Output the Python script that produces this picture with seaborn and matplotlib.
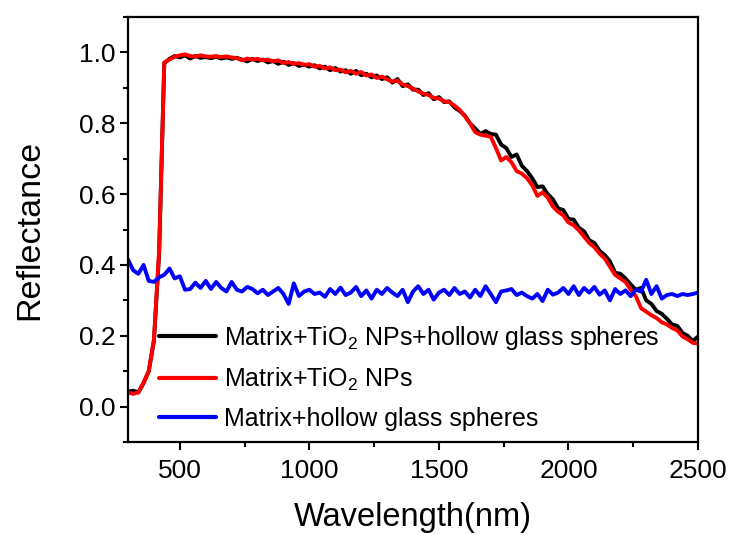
import numpy as np
import pandas as pd
import matplotlib
matplotlib.use("Agg")
import matplotlib.pyplot as plt
from matplotlib.ticker import MultipleLocator
import seaborn as sns

wavelength = list(range(300, 2501, 20))

tio2_hgs = [0.042, 0.045, 0.040, 0.066, 0.100, 0.185, 0.430, 0.970, 0.982, 0.990,
            0.986, 0.992, 0.983, 0.990, 0.985, 0.987, 0.984, 0.988, 0.983, 0.986,
            0.982, 0.985, 0.980, 0.975, 0.982, 0.976, 0.980, 0.972, 0.976, 0.968,
            0.974, 0.965, 0.970, 0.962, 0.966, 0.960, 0.964, 0.955, 0.960, 0.950,
            0.956, 0.946, 0.950, 0.940, 0.948, 0.936, 0.940, 0.930, 0.935, 0.925,
            0.930, 0.915, 0.925, 0.905, 0.910, 0.895, 0.895, 0.880, 0.885, 0.868,
            0.874, 0.860, 0.862, 0.845, 0.835, 0.822, 0.800, 0.785, 0.770, 0.778,
            0.770, 0.768, 0.740, 0.730, 0.705, 0.712, 0.680, 0.665, 0.645, 0.620,
            0.622, 0.600, 0.585, 0.560, 0.555, 0.530, 0.528, 0.505, 0.495, 0.470,
            0.462, 0.440, 0.428, 0.410, 0.378, 0.375, 0.362, 0.345, 0.330, 0.335,
            0.300, 0.290, 0.270, 0.262, 0.248, 0.232, 0.228, 0.208, 0.200, 0.185,
            0.198]

tio2 = [0.040, 0.036, 0.040, 0.068, 0.100, 0.190, 0.440, 0.972, 0.980, 0.988,
        0.992, 0.995, 0.990, 0.988, 0.992, 0.989, 0.988, 0.990, 0.987, 0.989,
        0.986, 0.984, 0.978, 0.983, 0.980, 0.982, 0.978, 0.980, 0.975, 0.978,
        0.970, 0.973, 0.968, 0.970, 0.965, 0.967, 0.960, 0.962, 0.955, 0.958,
        0.950, 0.952, 0.944, 0.948, 0.940, 0.945, 0.935, 0.938, 0.928, 0.932,
        0.924, 0.918, 0.920, 0.910, 0.905, 0.898, 0.890, 0.884, 0.880, 0.872,
        0.870, 0.862, 0.860, 0.850, 0.838, 0.820, 0.800, 0.775, 0.768, 0.765,
        0.762, 0.730, 0.695, 0.705, 0.690, 0.665, 0.658, 0.645, 0.625, 0.595,
        0.605, 0.590, 0.565, 0.550, 0.540, 0.520, 0.512, 0.498, 0.480, 0.462,
        0.450, 0.432, 0.418, 0.395, 0.372, 0.362, 0.352, 0.330, 0.312, 0.278,
        0.268, 0.258, 0.250, 0.238, 0.232, 0.222, 0.215, 0.198, 0.190, 0.180,
        0.178]

hgs = [0.415, 0.385, 0.375, 0.400, 0.355, 0.352, 0.365, 0.372, 0.390, 0.362,
       0.368, 0.330, 0.332, 0.350, 0.335, 0.355, 0.332, 0.352, 0.335, 0.325,
       0.352, 0.330, 0.325, 0.338, 0.332, 0.320, 0.330, 0.315, 0.325, 0.335,
       0.318, 0.290, 0.348, 0.312, 0.325, 0.330, 0.318, 0.322, 0.310, 0.332,
       0.318, 0.336, 0.315, 0.322, 0.338, 0.312, 0.328, 0.305, 0.330, 0.318,
       0.335, 0.322, 0.312, 0.330, 0.295, 0.325, 0.340, 0.318, 0.330, 0.302,
       0.322, 0.330, 0.315, 0.335, 0.318, 0.325, 0.308, 0.330, 0.312, 0.340,
       0.318, 0.295, 0.325, 0.328, 0.332, 0.315, 0.322, 0.312, 0.305, 0.318,
       0.298, 0.330, 0.316, 0.322, 0.335, 0.318, 0.340, 0.315, 0.335, 0.322,
       0.338, 0.316, 0.328, 0.300, 0.332, 0.318, 0.328, 0.312, 0.330, 0.325,
       0.358, 0.318, 0.340, 0.305, 0.315, 0.318, 0.312, 0.318, 0.315, 0.318,
       0.322]

labels = ["Matrix+TiO$_2$ NPs+hollow glass spheres",
          "Matrix+TiO$_2$ NPs",
          "Matrix+hollow glass spheres"]
colors = ["#000000", "#ff0000", "#0000ff"]
x_ticks = [500, 1000, 1500, 2000, 2500]
y_ticks = [0.0, 0.2, 0.4, 0.6, 0.8, 1.0]

sns.set_theme(style="ticks")
plt.rcParams['font.family'] = ['Liberation Sans', 'DejaVu Sans']
plt.rcParams['mathtext.fontset'] = 'custom'
plt.rcParams['mathtext.rm'] = 'Liberation Sans'
plt.rcParams['mathtext.it'] = 'Liberation Sans'
plt.rcParams['text.color'] = 'black'
plt.rcParams['axes.labelcolor'] = 'black'
plt.rcParams['xtick.color'] = 'black'
plt.rcParams['ytick.color'] = 'black'
plt.rcParams['axes.edgecolor'] = 'black'

df = pd.DataFrame({
    "wavelength": wavelength * 3,
    "reflectance": tio2_hgs + tio2 + hgs,
    "sample": [labels[0]] * len(wavelength) + [labels[1]] * len(wavelength) + [labels[2]] * len(wavelength),
})

fig = plt.figure(figsize=(7.34, 5.34), dpi=100)
ax = fig.add_axes([0.1744, 0.1723, 0.7766, 0.7957])
sns.lineplot(data=df, x="wavelength", y="reflectance", hue="sample",
             hue_order=labels, palette=colors, linewidth=2.8, ax=ax,
             estimator=None, sort=False)

ax.set_xlim(300, 2500)
ax.set_ylim(-0.1, 1.1)
ax.set_xticks(x_ticks)
ax.set_yticks(y_ticks)
ax.set_yticklabels([f"{v:.1f}" for v in y_ticks])
ax.xaxis.set_minor_locator(MultipleLocator(250))
ax.yaxis.set_minor_locator(MultipleLocator(0.1))
for s in ax.spines.values():
    s.set_linewidth(1.6)
    s.set_visible(True)
    s.set_color('black')
ax.tick_params(axis='both', which='major', labelsize=19, length=6, width=1.5,
               direction='out', color='black', labelcolor='black')
ax.tick_params(axis='y', which='major', pad=3)
ax.tick_params(axis='x', which='major', pad=6)
ax.tick_params(axis='both', which='minor', length=3.5, width=1.5, direction='out')
ax.tick_params(top=False, right=False, which='both')

ax.set_xlabel("Wavelength(nm)", fontsize=23.5, labelpad=14, color='black')
ax.set_ylabel("Reflectance", fontsize=24.5, labelpad=24, color='black')

leg = ax.legend(loc='upper left', bbox_to_anchor=(0.054, 0.278), frameon=False,
                fontsize=18, handlelength=2.3, handletextpad=0.3,
                labelspacing=0.55, borderpad=0, borderaxespad=0)
for t in leg.get_texts():
    t.set_color('black')
for line in leg.get_lines():
    line.set_linewidth(3)

fig.savefig("out.png", dpi=100)
